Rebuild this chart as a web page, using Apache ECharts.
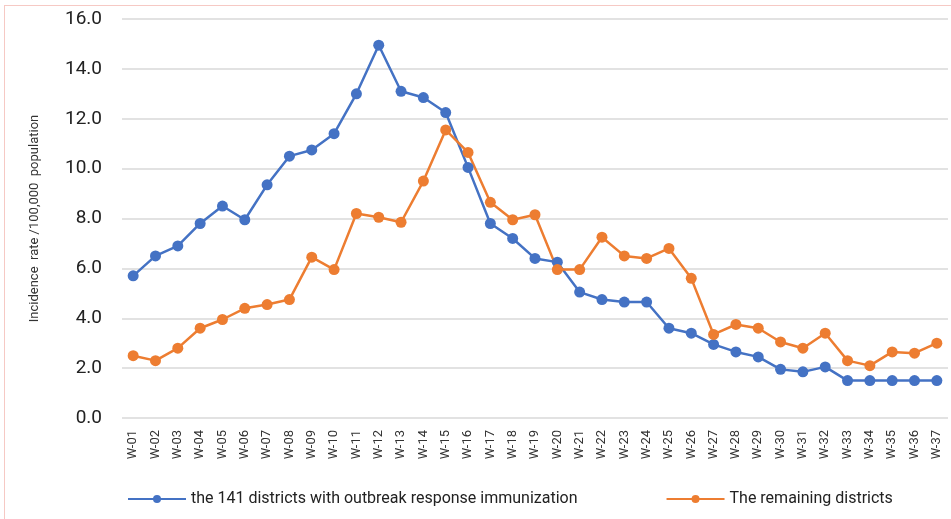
<!DOCTYPE html>
<html>
<head>
<meta charset="utf-8">
<script src="https://cdn.jsdelivr.net/npm/echarts@6/dist/echarts.min.js"></script>
<style>
  html, body { margin: 0; padding: 0; background: #fff; }
  #frame { position: absolute; left: 4px; top: 5px; width: 960px; height: 530px; border: 1px solid #f6c9c4; }
  #chart { position: absolute; left: 0; top: 0; width: 951px; height: 519px; }
</style>
</head>
<body>
<div id="frame"></div>
<div id="chart"></div>
<script>
const weeks = ['W-01','W-02','W-03','W-04','W-05','W-06','W-07','W-08','W-09','W-10',
  'W-11','W-12','W-13','W-14','W-15','W-16','W-17','W-18','W-19','W-20',
  'W-21','W-22','W-23','W-24','W-25','W-26','W-27','W-28','W-29','W-30',
  'W-31','W-32','W-33','W-34','W-35','W-36','W-37']

const ori = [5.7, 6.5, 6.9, 7.8, 8.5, 7.95, 9.35, 10.5, 10.75, 11.4,
  13.0, 14.95, 13.1, 12.85, 12.25, 10.05, 7.8, 7.2, 6.4, 6.25,
  5.05, 4.75, 4.65, 4.65, 3.6, 3.4, 2.95, 2.65, 2.45, 1.95,
  1.85, 2.05, 1.5, 1.5, 1.5, 1.5, 1.5]

const remaining = [2.5, 2.3, 2.8, 3.6, 3.95, 4.4, 4.55, 4.75, 6.45, 5.95,
  8.2, 8.05, 7.85, 9.5, 11.55, 10.65, 8.65, 7.95, 8.15, 5.95,
  5.95, 7.25, 6.5, 6.4, 6.8, 5.6, 3.35, 3.75, 3.6, 3.05,
  2.8, 3.4, 2.3, 2.1, 2.65, 2.6, 3.0]

const names = ['the 141 districts with outbreak response immunization', 'The remaining districts']
const colors = ['#4472c4', '#ed7d31']

const font = 'Roboto, sans-serif'
const myChart = echarts.init(document.querySelector('#chart'))

myChart.setOption({
  animation: false,
  textStyle: { fontFamily: font },
  grid: { left: 122, right: 3, top: 19, bottom: 101 },
  legend: {
    bottom: 7,
    left: 122,
    itemGap: 88,
    itemWidth: 58,
    itemHeight: 10,
    textStyle: { fontSize: 16, color: '#222', fontFamily: font },
    data: names
  },
  xAxis: {
    type: 'category',
    data: weeks,
    boundaryGap: true,
    axisLine: { show: false },
    axisTick: { show: false },
    axisLabel: { rotate: 90, fontSize: 13, color: '#333', margin: 12, interval: 0 }
  },
  yAxis: {
    type: 'value',
    min: 0,
    max: 16,
    interval: 2,
    name: 'Incidence  rate /100,000  population',
    nameLocation: 'middle',
    nameGap: 81,
    nameTextStyle: { fontSize: 13, color: '#333', fontFamily: font },
    axisLabel: { formatter: v => v.toFixed(1), fontSize: 19, color: '#222', margin: 20 },
    splitLine: { lineStyle: { color: '#d9d9d9', width: 1.5 } }
  },
  series: [
    {
      name: names[0],
      type: 'line',
      data: ori,
      color: colors[0],
      symbol: 'circle',
      symbolSize: 11,
      lineStyle: { width: 2.5 }
    },
    {
      name: names[1],
      type: 'line',
      data: remaining,
      color: colors[1],
      symbol: 'circle',
      symbolSize: 11,
      lineStyle: { width: 2.5 }
    }
  ]
})
</script>
</body>
</html>
